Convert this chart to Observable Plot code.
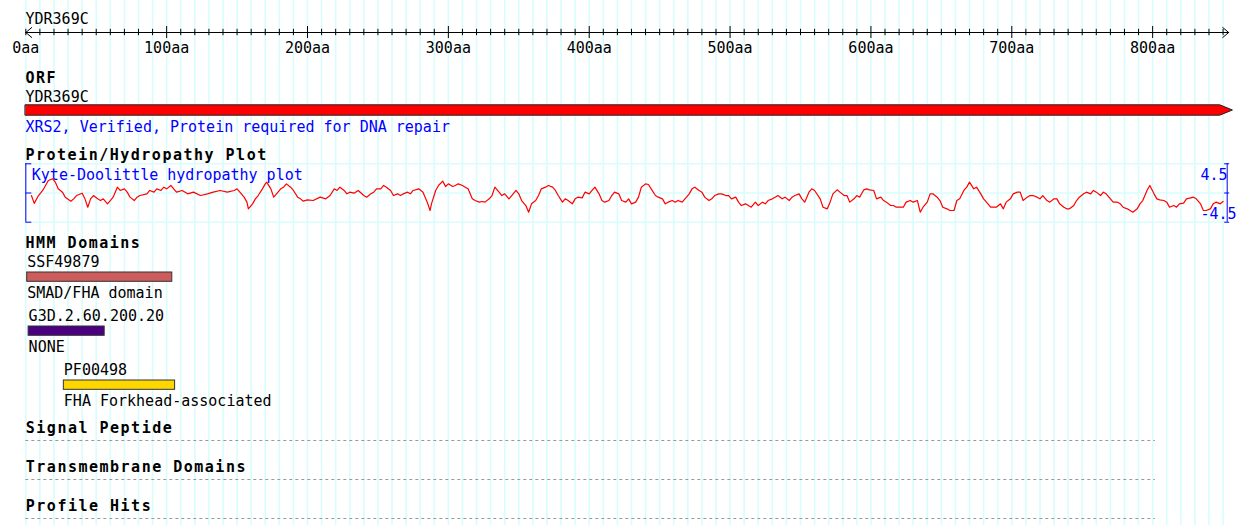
<!DOCTYPE html>
<html><head><meta charset="utf-8">
<script src="https://cdn.jsdelivr.net/npm/d3@7"></script>
<script src="https://cdn.jsdelivr.net/npm/@observablehq/plot@0.6"></script>
<style>
html,body{margin:0;padding:0;background:#fff;}
#chart{position:relative;width:1240px;height:525px;overflow:hidden;}
#chart .layer{position:absolute;left:0;}
#chart svg{display:block;}
#chart g[font-weight="bold"] text{letter-spacing:1.5px;}
</style></head><body><div id="chart"></div>
<script>
// ---------- data ----------
const proteinLength = 854;
const geneName = "YDR369C";
const orfDescription = "XRS2, Verified, Protein required for DNA repair";
const orfStart = 0, orfBodyEnd = 848, orfTip = 857;
const majorTicks = [0, 100, 200, 300, 400, 500, 600, 700, 800];
const majorTickLabels = ["0aa", "100aa", "200aa", "300aa", "400aa", "500aa", "600aa", "700aa", "800aa"];
const hydroTitle = "Kyte-Doolittle hydropathy plot";
const hydroTicks = [-4.5, 0, 4.5];
const hydroTickLabels = ["4.5", "-4.5"];
// [residue, Kyte-Doolittle score]
const hydropathy = [
[4,-0.39],[6,-1.6],[9,-0.39],[12,0.39],[14,1.16],[16,1.93],[19,2.19],[21,1.67],[23,0.64],[26,0.13],
[28,-0.64],[32,-1.26],[34,-0.9],[36,-0.39],[40,-0.03],[42,-0.9],[44,-2.19],[46,-0.9],[48,-0.39],[51,-0.9],
[53,-1.16],[55,-0.9],[58,-1.67],[60,-1.16],[62,-0.64],[65,0.9],[67,0.39],[70,0.64],[72,0.13],[74,-0.64],
[77,-1.16],[79,-0.64],[81,-0.39],[86,-0.13],[88,0.39],[91,0.13],[93,0.64],[96,0.39],[98,0.9],[100,0.64],
[103,1.16],[105,0.64],[107,0.13],[111,0.39],[115,-0.13],[119,0.13],[124,-0.39],[129,-0.13],[133,0.13],[138,0.39],
[143,0.13],[148,0.39],[150,0.64],[152,0.13],[155,-0.64],[157,-1.41],[158,-2.44],[161,-1.67],[163,-0.9],[165,-0.39],
[168,0.64],[170,1.41],[171,1.67],[174,0.64],[176,-0.64],[178,-0.13],[181,0.64],[183,0.9],[185,1.41],[188,0.9],
[190,0.39],[193,-0.64],[195,-0.9],[197,-1.26],[200,-1.05],[204,-1.16],[209,-0.64],[213,-0.9],[216,-0.39],[219,0.64],
[221,0.39],[223,0.9],[226,0.39],[228,-0.13],[230,0.13],[233,-0.03],[236,0.39],[240,-0.39],[242,-0.64],[245,-0.13],
[247,0.13],[249,0.64],[252,0.64],[254,1.16],[256,0.9],[259,0.39],[261,-0.39],[264,-0.13],[266,-0.39],[268,-0.13],
[271,0.13],[273,-0.13],[275,0.39],[279,0.64],
[282,0.13],[285,-1.41],[287,-2.7],[288,-1.67],[291,0.39],[293,1.16],[296,1.83],[298,1.0],[300,1.41],[303,1.0],
[305,1.16],[307,1.41],[310,1.16],[312,0.9],[314,0.64],[317,-0.9],[319,-1.16],[322,-1.41],[324,-1.31],[326,-1.41],
[329,-0.9],[331,-0.39],[333,0.9],[336,0.13],[338,-0.39],[340,-0.13],[343,-0.9],[345,-0.39],[348,0.39],[350,-0.13],
[352,-1.16],[355,-1.93],[357,-2.96],[359,-1.67],[362,-1.16],[364,-0.39],[366,0.64],[369,0.9],[371,1.16],[374,0.9],
[376,0.39],[378,-0.39],[381,-1.41],[383,-0.9],[385,-1.16],[388,-1.67],[390,-0.9],[392,-0.64],[395,-0.75],[397,0.13],
[400,-0.13],[402,0.39],[404,0.9],[407,-0.13],[409,-1.16],[411,-1.41],[414,-1.16],[416,-0.39],[418,0.13],[421,-0.13],
[423,-1.16],[426,-1.41],[428,-0.9],[430,-1.67],[433,-1.41],[435,-0.64],[437,0.9],[440,1.41],[442,1.31],[444,0.64],
[447,-0.39],[449,-0.64],[452,-0.9],[454,-1.67],[456,-1.41],[459,-1.16],[461,-1.41],[463,-1.16],[466,-1.41],[468,-0.9],
[471,-0.13],[473,0.64],[475,0.9],[478,0.39],[480,0.13],[482,-0.64],[485,-1.16],[487,-0.9],[489,-0.39],[492,-0.13],
[494,-0.13],[497,-0.39],[499,-0.39],[501,-0.9],[504,-0.64],[506,-1.41],[508,-1.93],[511,-1.67],[513,-1.93],[515,-2.19],
[518,-1.41],[520,-1.93],[523,-1.41],[525,-1.67],[527,-1.16],[530,-0.9],[532,-0.64],[534,-0.39],[537,-0.9],[539,-0.64],
[542,-1.16],[544,-0.64],[546,-0.39],[549,-0.13],[551,-0.9],[553,-1.41],[556,0.13],[558,0.64],[560,0.39],
[564,-0.9],[566,-2.19],[569,-2.44],[571,-1.41],[573,-0.13],[576,0.49],[578,0.13],[581,-0.39],[583,-0.39],[585,-1.41],
[588,-0.9],[590,-0.39],[592,-0.64],[595,0.49],[597,0.64],[599,0.49],[602,0.39],[604,-0.9],[607,-0.64],[609,-1.16],
[611,-1.41],[614,-1.93],[616,-1.93],[618,-2.19],[621,-2.19],[623,-2.19],[625,-1.41],[628,-1.16],[630,-1.41],[633,-1.16],
[635,-2.96],[637,-2.19],[640,-1.41],[642,-0.13],[644,-0.13],[647,-0.64],[649,-1.16],[651,-2.19],[654,-2.44],[656,-2.7],
[659,-2.7],[661,-1.16],[663,-0.9],[666,0.39],[668,0.9],[670,1.67],[673,0.64],[675,0.9],[678,-0.13],[680,-0.9],
[682,-1.41],[685,-2.19],[687,-2.19],[689,-2.19],[692,-1.67],[694,-2.44],[696,-1.41],[699,-0.9],[701,-0.13],[704,0.13],
[706,0.13],[708,-1.16],[711,-0.64],[713,-0.39],[715,-0.39],[718,-0.64],[720,-0.9],[722,-0.39],[725,-1.16],[727,-1.41],
[730,-0.9],[732,-0.9],[734,-1.67],[737,-2.19],[739,-2.44],[741,-2.44],[744,-1.93],[746,-1.16],[748,-0.64],[751,-0.13],
[753,0.13],[756,-0.13],[758,0.39],[760,0.13],[763,-0.39],[765,0.13],[767,-0.13],[770,-0.9],[772,-1.41],[775,-1.41],
[777,-1.67],[779,-2.19],[782,-2.44],[784,-2.7],[786,-2.96],[789,-2.44],[791,-1.67],[793,-1.16],[796,0.39],[798,1.16],
[801,-0.13],[803,-0.9],[805,-1.05],[808,-1.16],[810,-1.41],[812,-2.19],[815,-1.93],[817,-2.19],[819,-1.67],[822,-1.57],
[824,-0.9],[827,-0.75],[829,-0.64],[831,-0.9],[834,-1.67],[836,-2.7],[838,-2.7],[841,-2.44],[843,-1.67],[845,-1.41],
[848,-1.67],[850,-1.31]
];
const domainNames = ["SSF49879", "G3D.2.60.200.20", "PF00498"];
const domainStarts = [1, 2, 27];
const domainEnds = [104, 56, 106];
const domainDescriptions = ["SMAD/FHA domain", "NONE", "FHA Forkhead-associated"];
const domainColors = ["#cd5c5c", "#4b0082", "#ffd700"];
const emptyTracks = ["Signal Peptide", "Transmembrane Domains", "Profile Hits"];
const emptyTrackEnd = 802;

// ---------- layout helpers ----------
const W = 1240;
const gridColor = "#d9fcfc";
const X = {domain: [0, proteinLength], range: [25.3, 1228.2], axis: null};
const baseStyle = {background: "transparent", fontFamily: "'DejaVu Sans Mono', monospace", fontSize: "15px", color: "black", overflow: "visible"};
const chart = document.getElementById("chart");
function place(svg, top) {
  const d = document.createElement("div");
  d.className = "layer";
  d.style.top = top + "px";
  d.appendChild(svg);
  chart.appendChild(d);
}
const label = (t, dy, extra = {}) => Plot.text([t], {frameAnchor: "top-left", textAnchor: "start", lineAnchor: "bottom", dy, ...extra});

// background grid
const gridLines = d3.range(0, proteinLength, 10);
place(Plot.plot({
  width: W, height: 525, margin: 0, marginLeft: 25, x: X, style: baseStyle,
  marks: [Plot.ruleX(gridLines, {x: d => d, stroke: gridColor, strokeWidth: 1.6})]
}), 0);

// ruler
const minorTicks = gridLines.filter(d => d % 100 !== 0 || d === 0);
const mid = proteinLength / 2;
place(Plot.plot({
  width: W, height: 60, margin: 0, marginLeft: 25, x: X,
  y: {domain: [-1, 1], range: [38, 26], axis: null}, style: baseStyle,
  marks: [
    label(geneName, 23),
    Plot.arrow([{a: mid, b: 0}, {a: mid, b: proteinLength}], {x1: "a", x2: "b", y1: 0, y2: 0, headLength: 11.7, headAngle: 80, stroke: "black", strokeWidth: 1}),
    Plot.ruleX(majorTicks.filter(d => d > 0), {x: d => d, y1: -1, y2: 1, stroke: "black"}),
    Plot.ruleX(minorTicks, {x: d => d, y1: -0.53, y2: 0.53, stroke: "black"}),
    Plot.text(majorTicks, {x: d => d, y: -1, dy: 14, lineAnchor: "bottom", text: (d, i) => majorTickLabels[i]})
  ]
}), 0);

// ORF track
const orfShape = [
  {x: orfStart, y1: -1, y2: 1},
  {x: orfBodyEnd, y1: -1, y2: 1},
  {x: orfTip, y1: 0, y2: 0}
];
place(Plot.plot({
  width: W, height: 80, margin: 0, marginLeft: 25, x: X,
  y: {domain: [-1, 1], range: [55.2, 44.8], axis: null}, style: baseStyle,
  marks: [
    label("ORF", 22, {fontWeight: "bold"}),
    label(geneName, 41),
    Plot.areaY(orfShape, {x: "x", y1: "y1", y2: "y2", fill: "red", stroke: "#222", strokeWidth: 1}),
    label(orfDescription, 71, {fill: "blue"})
  ]
}), 60);

// Hydropathy track
place(Plot.plot({
  width: W, height: 95, margin: 0, marginLeft: 25, x: X,
  y: {domain: [-4.5, 4.5], range: [81.7, 23.3], axis: null}, style: baseStyle,
  marks: [
    label("Protein/Hydropathy Plot", 19.5, {fontWeight: "bold"}),
    Plot.ruleY(hydroTicks, {y: d => d, x1: 0, x2: proteinLength, stroke: gridColor, strokeWidth: 1.6}),
    Plot.ruleX([0], {x: d => d, y1: -4.5, y2: 4.5, stroke: "blue"}),
    Plot.ruleY(hydroTicks, {y: d => d, x1: 0, x2: 0, insetRight: -6, stroke: "blue"}),
    Plot.ruleX([proteinLength], {x: d => d, y1: -4.5, y2: 4.5, dx: -1.5, stroke: "blue"}),
    Plot.ruleY(hydroTicks, {y: d => d, x1: proteinLength, x2: proteinLength, insetLeft: -2.5, insetRight: -2.5, dx: -1.5, stroke: "blue"}),
    Plot.text([hydroTitle], {x: 0, y: 4.5, dx: 6, dy: 15.7, textAnchor: "start", lineAnchor: "bottom", fill: "blue"}),
    Plot.text([hydroTickLabels[0]], {x: proteinLength, y: 4.5, dx: -28.2, dy: 15.7, textAnchor: "start", lineAnchor: "bottom", fill: "blue"}),
    Plot.text([hydroTickLabels[1]], {x: proteinLength, y: -4.5, dx: -28.2, dy: -3.7, textAnchor: "start", lineAnchor: "bottom", fill: "blue"}),
    Plot.line(hydropathy, {x: d => d[0], y: d => d[1], stroke: "red", strokeWidth: 1.2})
  ]
}), 140);

// HMM domains
const domains = domainNames.map((n, i) => ({name: n, start: domainStarts[i], end: domainEnds[i], desc: domainDescriptions[i], color: domainColors[i]}));
place(Plot.plot({
  width: W, height: 175, margin: 0, marginLeft: 25, x: X,
  y: {type: "band", domain: domainNames, range: [14.2, 178.3], padding: 0, axis: null},
  color: {type: "identity"}, style: baseStyle,
  marks: [
    label("HMM Domains", 12.5, {fontWeight: "bold"}),
    Plot.barX(domains, {x1: "start", x2: "end", y: "name", fill: "color", stroke: "#333", strokeWidth: 1, insetTop: 22, insetBottom: 22.7}),
    Plot.text(domains, {x: "start", y: "name", text: "name", dy: -10.2, textAnchor: "start", lineAnchor: "bottom"}),
    Plot.text(domains, {x: "start", y: "name", text: "desc", dy: 20.6, textAnchor: "start", lineAnchor: "bottom"})
  ]
}), 235);

// empty tracks
place(Plot.plot({
  width: W, height: 115, margin: 0, marginLeft: 25, x: X,
  y: {type: "point", domain: emptyTracks, range: [30, 108.3], padding: 0, axis: null}, style: baseStyle,
  marks: [
    Plot.ruleY(emptyTracks, {y: d => d, x1: 0, x2: emptyTrackEnd, stroke: "#999", strokeDasharray: "3,3"}),
    Plot.text(emptyTracks, {x: 0, y: d => d, dy: -7.5, textAnchor: "start", lineAnchor: "bottom", fontWeight: "bold"})
  ]
}), 410);
</script>
</body></html>
